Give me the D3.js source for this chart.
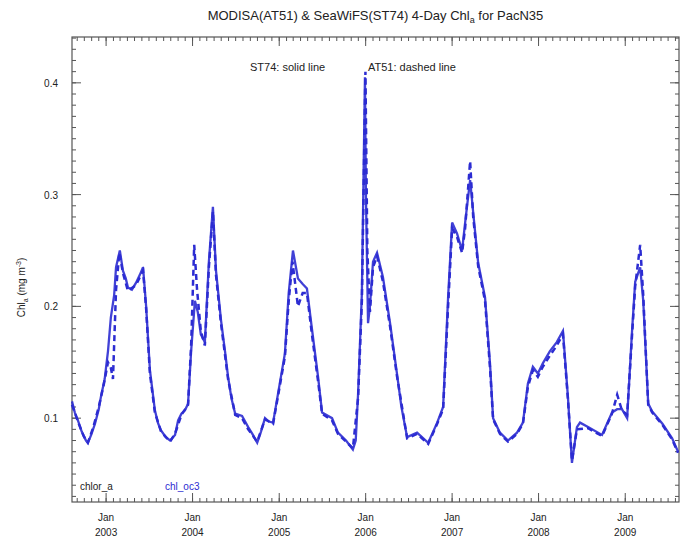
<!DOCTYPE html>
<html>
<head>
<meta charset="utf-8">
<script src="https://cdn.jsdelivr.net/npm/d3@7"></script>
<style>
body { margin: 0; background: #fff; }
text { font-family: "Liberation Sans", Arial, sans-serif; fill: #222; }
</style>
</head>
<body>
<div id="chart"></div>
<script>
/* globals d3: false */

// ST74 (SeaWiFS), solid line
var st74_dates = ["2002-08-10","2002-08-22","2002-09-04","2002-09-20","2002-10-08","2002-10-16","2002-10-30","2002-11-15","2002-12-01","2002-12-10","2002-12-26",
	"2003-01-09","2003-01-21","2003-02-04","2003-02-12","2003-02-28","2003-03-13","2003-03-25","2003-04-03","2003-04-20","2003-05-07","2003-05-23","2003-06-06","2003-06-19","2003-07-05","2003-07-26","2003-08-09","2003-08-21","2003-09-10","2003-09-28","2003-10-19","2003-11-01","2003-11-15","2003-11-30","2003-12-13","2003-12-26",
	"2004-01-11","2004-01-23","2004-02-05","2004-02-22","2004-03-10","2004-03-27","2004-04-09","2004-04-30","2004-05-17","2004-05-30","2004-06-13","2004-06-29","2004-07-28","2004-08-23","2004-09-12","2004-09-30","2004-10-16","2004-11-02","2004-11-18","2004-12-06","2004-12-27",
	"2005-01-25","2005-02-10","2005-02-28","2005-03-21","2005-04-10","2005-04-28","2005-05-19","2005-06-14","2005-07-01","2005-08-12","2005-09-06","2005-10-10","2005-11-08","2005-11-20","2005-11-30","2005-12-16","2005-12-29",
	"2006-01-02","2006-01-11","2006-01-19","2006-02-01","2006-02-18","2006-03-15","2006-04-14","2006-05-13","2006-06-01","2006-06-25","2006-08-06","2006-09-22","2006-10-30","2006-11-24","2006-12-15",
	"2007-01-01","2007-01-22","2007-02-12","2007-02-25","2007-03-18","2007-03-31","2007-04-21","2007-05-20","2007-06-10","2007-06-23","2007-07-22","2007-08-25","2007-10-02","2007-10-27","2007-11-17","2007-12-08","2007-12-29",
	"2008-01-19","2008-02-18","2008-03-18","2008-04-13","2008-05-04","2008-05-21","2008-06-11","2008-06-24","2008-07-28","2008-09-25","2008-10-16","2008-11-06","2008-11-28","2008-12-18",
	"2009-01-09","2009-01-30","2009-02-12","2009-03-05","2009-03-18","2009-04-08","2009-04-25","2009-06-07","2009-07-18","2009-08-12"];
var st74_values = [0.115,0.105,0.098,0.088,0.080,0.078,0.085,0.095,0.108,0.119,0.135,
	0.160,0.190,0.210,0.235,0.250,0.232,0.225,0.217,0.215,0.221,0.228,0.235,0.200,0.143,0.107,0.095,0.089,0.083,0.080,0.085,0.098,0.104,0.107,0.113,0.160,
	0.205,0.195,0.175,0.168,0.240,0.289,0.232,0.188,0.160,0.137,0.118,0.104,0.102,0.092,0.085,0.078,0.088,0.100,0.097,0.096,0.122,
	0.158,0.212,0.250,0.225,0.220,0.216,0.180,0.137,0.105,0.100,0.087,0.080,0.072,0.080,0.122,0.212,0.405,
	0.300,0.185,0.200,0.240,0.248,0.226,0.185,0.140,0.110,0.083,0.087,0.078,0.096,0.110,0.208,
	0.275,0.265,0.250,0.275,0.313,0.284,0.239,0.208,0.149,0.100,0.087,0.080,0.087,0.096,0.131,0.146,0.140,
	0.149,0.160,0.168,0.178,0.119,0.060,0.092,0.096,0.092,0.085,0.095,0.105,0.108,0.108,
	0.100,0.179,0.222,0.235,0.205,0.113,0.106,0.095,0.082,0.070];

// AT51 (MODIS-Aqua), dashed line
var at51_dates = ["2002-08-10","2002-09-04","2002-09-28","2002-10-16","2002-11-08","2002-12-01","2002-12-22",
	"2003-01-09","2003-01-21","2003-01-30","2003-02-12","2003-02-26","2003-03-13","2003-04-03","2003-05-07","2003-06-06","2003-06-19","2003-07-05","2003-07-26","2003-08-21","2003-09-28","2003-10-19","2003-11-15","2003-12-13","2003-12-26",
	"2004-01-08","2004-01-20","2004-02-05","2004-02-22","2004-03-10","2004-03-27","2004-04-09","2004-04-30","2004-05-30","2004-06-29","2004-07-28","2004-08-23","2004-09-30","2004-11-02","2004-12-06","2004-12-27",
	"2005-01-25","2005-02-10","2005-02-26","2005-03-21","2005-04-10","2005-04-28","2005-05-19","2005-06-14","2005-07-01","2005-08-12","2005-09-06","2005-10-10","2005-11-08","2005-11-30","2005-12-16","2005-12-31",
	"2006-01-08","2006-01-19","2006-02-01","2006-02-18","2006-03-15","2006-04-14","2006-05-13","2006-06-25","2006-08-06","2006-09-22","2006-10-30","2006-11-24","2006-12-15",
	"2007-01-01","2007-01-22","2007-02-12","2007-02-25","2007-03-18","2007-03-31","2007-04-21","2007-05-20","2007-06-10","2007-06-23","2007-07-22","2007-08-25","2007-10-02","2007-10-27","2007-11-17","2007-12-08","2007-12-29",
	"2008-01-19","2008-02-18","2008-03-18","2008-04-13","2008-05-04","2008-05-21","2008-06-11","2008-07-28","2008-09-25","2008-10-16","2008-11-06","2008-11-28","2008-12-18",
	"2009-01-09","2009-01-30","2009-02-12","2009-03-05","2009-03-18","2009-04-08","2009-04-25","2009-06-07","2009-07-18","2009-08-12"];
var at51_values = [0.112,0.097,0.084,0.078,0.092,0.110,0.130,
	0.150,0.145,0.135,0.215,0.248,0.230,0.214,0.219,0.232,0.198,0.140,0.105,0.088,0.079,0.086,0.103,0.112,0.165,
	0.255,0.215,0.178,0.165,0.235,0.285,0.228,0.185,0.135,0.103,0.100,0.090,0.079,0.099,0.095,0.120,
	0.155,0.205,0.240,0.200,0.212,0.212,0.175,0.133,0.104,0.098,0.086,0.079,0.073,0.118,0.205,0.410,
	0.250,0.195,0.235,0.245,0.222,0.182,0.138,0.082,0.086,0.077,0.095,0.108,0.200,
	0.270,0.262,0.248,0.270,0.330,0.280,0.236,0.205,0.145,0.099,0.086,0.079,0.086,0.095,0.128,0.143,0.137,
	0.146,0.156,0.165,0.175,0.117,0.062,0.090,0.091,0.084,0.094,0.104,0.121,0.107,
	0.103,0.175,0.218,0.255,0.210,0.112,0.105,0.094,0.081,0.069];

var y_ticks = [0.1, 0.2, 0.3, 0.4];
var year_ticks = ["2003","2004","2005","2006","2007","2008","2009"];

var width = 681, height = 546;
var margin = {left: 72, right: 2, top: 37, bottom: 44};
var line_color = "#2c2cd2";
var axis_color = "#555";

var parse = d3.utcParse("%Y-%m-%d");

var st74 = st74_dates.map(function(d, i) { return {date: parse(d), value: st74_values[i]}; });
var at51 = at51_dates.map(function(d, i) { return {date: parse(d), value: at51_values[i]}; });

var svg = d3.select("#chart").append("svg")
	.attr("width", width)
	.attr("height", height);

var x = d3.scaleUtc()
	.domain([parse("2002-08-10"), parse("2009-08-16")])
	.range([margin.left, width - margin.right]);

var y = d3.scaleLinear()
	.domain([0.025, 0.441])
	.range([height - margin.bottom, margin.top]);

var x0 = margin.left, x1 = width - margin.right;
var y0 = height - margin.bottom, y1 = margin.top;

// minor and major ticks on all four sides, pointing inwards
var months = x.ticks(d3.utcMonth.every(1));
var years = year_ticks.map(function(s) { return parse(s + "-01-01"); });
var minor_y = d3.range(3, 45).map(function(i) { return i / 100; }).filter(function(v) { return v <= 0.441; });

function drawTicks(g, vals, len, horiz) {
	vals.forEach(function(v) {
		if (horiz) {
			var px = x(v);
			g.append("line").attr("x1", px).attr("x2", px).attr("y1", y0).attr("y2", y0 - len);
			g.append("line").attr("x1", px).attr("x2", px).attr("y1", y1).attr("y2", y1 + len);
		} else {
			var py = y(v);
			g.append("line").attr("x1", x0).attr("x2", x0 + len).attr("y1", py).attr("y2", py);
			g.append("line").attr("x1", x1).attr("x2", x1 - len).attr("y1", py).attr("y2", py);
		}
	});
}

var ticks = svg.append("g")
	.attr("stroke", axis_color)
	.attr("stroke-width", 1);
drawTicks(ticks, months, 4, true);
drawTicks(ticks, years, 9, true);
drawTicks(ticks, minor_y, 4, false);
drawTicks(ticks, y_ticks, 9, false);

svg.append("rect")
	.attr("x", x0).attr("y", y1)
	.attr("width", x1 - x0).attr("height", y0 - y1)
	.attr("fill", "none")
	.attr("stroke", axis_color)
	.attr("stroke-width", 1.2);

// lines
var line = d3.line()
	.x(function(d) { return x(d.date); })
	.y(function(d) { return y(d.value); });

svg.append("path")
	.datum(at51)
	.attr("d", line)
	.attr("fill", "none")
	.attr("stroke", line_color)
	.attr("stroke-width", 2.5)
	.attr("stroke-dasharray", "6,4");

svg.append("path")
	.datum(st74)
	.attr("d", line)
	.attr("fill", "none")
	.attr("stroke", line_color)
	.attr("stroke-width", 2.3)
	.attr("stroke-opacity", 0.9);

// tick labels
svg.append("g").selectAll("text")
	.data(y_ticks)
	.enter().append("text")
	.attr("x", x0 - 14)
	.attr("y", function(d) { return y(d) + 4; })
	.attr("text-anchor", "end")
	.style("font-size", "10px")
	.text(function(d) { return d3.format(".1f")(d); });

var xl = svg.append("g").selectAll("g")
	.data(years)
	.enter().append("g");
xl.append("text")
	.attr("x", function(d) { return x(d); })
	.attr("y", y0 + 19)
	.attr("text-anchor", "middle")
	.style("font-size", "10px")
	.text("Jan");
xl.append("text")
	.attr("x", function(d) { return x(d); })
	.attr("y", y0 + 34)
	.attr("text-anchor", "middle")
	.style("font-size", "10px")
	.text(function(d) { return d3.utcFormat("%Y")(d); });

// title
var title = svg.append("text")
	.attr("x", (x0 + x1) / 2)
	.attr("y", 20)
	.attr("text-anchor", "middle")
	.style("font-size", "13px");
title.append("tspan").text("MODISA(AT51) & SeaWiFS(ST74) 4-Day Chl");
title.append("tspan").attr("dy", 3).style("font-size", "9px").text("a");
title.append("tspan").attr("dy", -3).text(" for PacN35");

// y label
var ylab = svg.append("text")
	.attr("transform", "translate(25," + ((y0 + y1) / 2 + 18) + ") rotate(-90)")
	.attr("text-anchor", "middle")
	.style("font-size", "10px");
ylab.append("tspan").text("Chl");
ylab.append("tspan").attr("dy", 3).style("font-size", "7px").text("a");
ylab.append("tspan").attr("dy", -3).text(" (mg m");
ylab.append("tspan").attr("dy", -4).style("font-size", "7px").text("-3");
ylab.append("tspan").attr("dy", 4).text(")");

// annotation
svg.append("text")
	.attr("x", 250)
	.attr("y", 71)
	.style("font-size", "11px")
	.text("ST74: solid line");
svg.append("text")
	.attr("x", 368)
	.attr("y", 71)
	.style("font-size", "11px")
	.text("AT51: dashed line");

// legend
svg.append("text")
	.attr("x", 80)
	.attr("y", 490)
	.style("font-size", "10px")
	.text("chlor_a");
svg.append("text")
	.attr("x", 165)
	.attr("y", 490)
	.style("font-size", "10px")
	.style("fill", line_color)
	.text("chl_oc3");
</script>
</body>
</html>
